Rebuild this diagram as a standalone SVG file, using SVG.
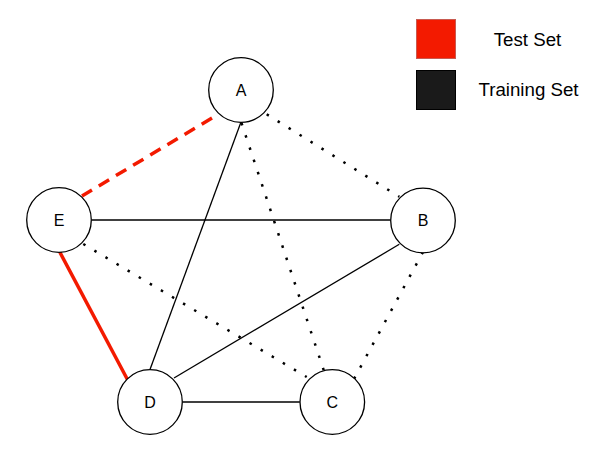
<svg xmlns="http://www.w3.org/2000/svg" width="590" height="457" viewBox="0 0 590 457">
<style>
.node circle{fill:#fff;stroke:#000;stroke-width:1.3}
.node text{font-family:"Liberation Sans",Arial,sans-serif;font-size:16px;text-anchor:middle;fill:#000}
.leg text{font-family:"Liberation Sans",Arial,sans-serif;font-size:18.7px;text-anchor:middle;fill:#000}
.solid{stroke:#000;stroke-width:1.3;fill:none}
.dot{stroke:#000;stroke-width:2.5;fill:none;stroke-dasharray:2.5 10.4}
.red{stroke:#f31a00;stroke-width:3.5;fill:none}
.reddash{stroke:#f31a00;stroke-width:3.5;fill:none;stroke-dasharray:12 8}
</style>
<rect width="590" height="457" fill="#fff"/>
<g id="connectors">
<line class="reddash" x1="212" y1="118" x2="82" y2="196"/>
<line class="red" x1="60" y1="252.5" x2="127.3" y2="379.3"/>
<line class="solid" x1="241" y1="122" x2="150" y2="369.5"/>
<line class="solid" x1="91.5" y1="220" x2="390.5" y2="220"/>
<line class="solid" x1="174" y1="378" x2="399.3" y2="244.3"/>
<line class="solid" x1="182.5" y1="402" x2="299.8" y2="402"/>
<line class="dot" x1="266.7" y1="114.3" x2="399.3" y2="196.7"/>
<line class="dot" x1="241.5" y1="123" x2="324" y2="371"/>
<line class="dot" x1="83.3" y1="244" x2="306.7" y2="377"/>
<line class="dot" x1="423" y1="252" x2="354" y2="379"/>
</g>
<g id="node-A" class="node"><circle cx="241" cy="90" r="32.3"/><text x="241" y="95.7">A</text></g>
<g id="node-B" class="node"><circle cx="423" cy="220.5" r="32.3"/><text x="423" y="226.2">B</text></g>
<g id="node-E" class="node"><circle cx="59" cy="220" r="32.3"/><text x="59" y="225.7">E</text></g>
<g id="node-D" class="node"><circle cx="150" cy="402" r="32.3"/><text x="150" y="407.7">D</text></g>
<g id="node-C" class="node"><circle cx="332.3" cy="402" r="32.3"/><text x="332.3" y="407.7">C</text></g>
<g id="legend-test" class="leg"><rect x="416.5" y="19.5" width="39" height="39" fill="#f31a00" stroke="#c85a50" stroke-width="1"/><text x="527.5" y="46">Test Set</text></g>
<g id="legend-train" class="leg"><rect x="416.5" y="70.5" width="39" height="39" fill="#1a1a1a" stroke="#000" stroke-width="1"/><text x="528.5" y="96">Training Set</text></g>
</svg>
